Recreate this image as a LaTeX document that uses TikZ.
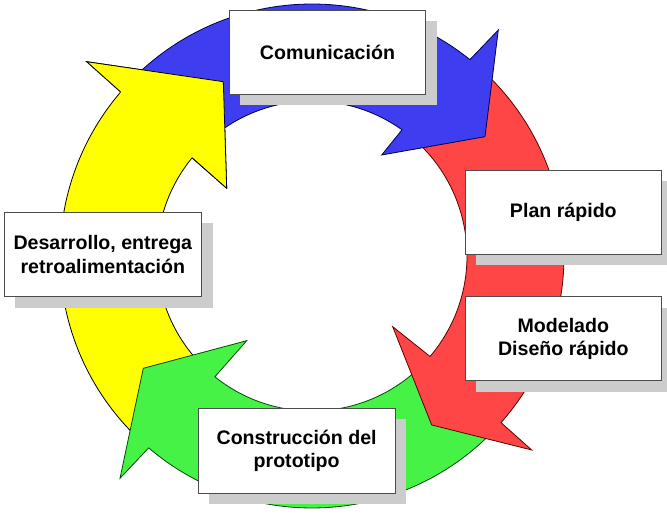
\documentclass[tikz,border=0pt]{standalone}
\usepackage{fontspec}
\setmainfont{Liberation Sans}
\usetikzlibrary{calc,shadows}
\definecolor{cblue}{RGB}{62,62,240}
\definecolor{cred}{RGB}{255,70,70}
\definecolor{cgreen}{RGB}{70,242,70}
\definecolor{cyellow}{RGB}{255,255,0}
\begin{document}
\begin{tikzpicture}[x=1pt,y=1pt,
  arr/.style={line width=0.8pt, line join=miter},
  box/.style={draw=black!70, line width=0.7pt, fill=white, minimum width=196.6pt, minimum height=84.3pt, inner sep=0pt, align=center, font=\fontsize{19.6}{23.5}\selectfont\bfseries,
    drop shadow={shadow xshift=11pt, shadow yshift=-11pt, fill=black!20, opacity=1}}]
\useasboundingbox (0,0) rectangle (667,514);
\clip (0,0) rectangle (667,514);
\coordinate (C) at (312,258);
% yellow
\coordinate (yob) at (86.7,452.3);
\coordinate (yt) at (223.3,432.3);
\coordinate (yib) at (226.7,325.7);
\draw[arr, fill=cyellow, draw=black] ($(C)+(225:155)$) -- ($(C)+(225:252)$) arc[start angle=225, end angle=139.4, radius=252] coordinate (yon)
  -- (yob) -- (yt) -- (yib) -- ($(C)+(140.7:155)$) coordinate (yin) arc[start angle=140.7, end angle=225, radius=155] -- cycle;
% green
\coordinate (gob) at (120,35.7);
\coordinate (gt) at (143.3,145.7);
\coordinate (gib) at (246.7,173.3);
\draw[arr, fill=cgreen, draw=green!30!black] ($(C)+(-44:155)$) -- ($(C)+(-44:252)$) arc[start angle=-44, end angle=-130.4, radius=252]
  -- (gob) -- (gt) -- (gib) -- ($(C)+(-128.8:155)$) arc[start angle=-128.8, end angle=-44, radius=155] -- cycle;
% red
\coordinate (rob) at (531.7,64);
\coordinate (rt) at (431.7,89);
\coordinate (rib) at (392.7,187.3);
\draw[arr, fill=cred, draw=red!35!black] ($(C)+(47:155)$) -- ($(C)+(47:252)$) arc[start angle=47, end angle=-41.4, radius=252]
  -- (rob) -- (rt) -- (rib) -- ($(C)+(-40.4:155)$) arc[start angle=-40.4, end angle=47, radius=155] -- cycle;
% blue
\coordinate (bob) at (498.3,484);
\coordinate (bt) at (485,377.3);
\coordinate (bib) at (381.7,359);
\draw[arr, fill=cblue, draw=blue!30!black] ($(C)+(136:155)$) -- ($(C)+(136:252)$) arc[start angle=136, end angle=51.2, radius=252]
  -- (bob) -- (bt) -- (bib) -- ($(C)+(54.5:155)$) arc[start angle=54.5, end angle=136, radius=155] -- cycle;
% yellow head on top of blue tail
\fill[cyellow] (yob) -- (yt) -- (yib) -- cycle;
\draw[arr, draw=black] (yon) -- (yob) -- (yt) -- (yib) -- (yin);
% boxes
\node[box] (com) at (327.5,461.85) {Comunicación};
\node[box] (plan) at (563.35,301.85) {Plan rápido};
\node[box] (mod) at (563.35,175.3) {Modelado\\Diseño rápido};
\node[box, minimum width=197.7pt] (des) at (102.85,259.5) {Desarrollo, entrega\\retroalimentación};
\node[box, minimum height=85pt] (con) at (296.65,63.2) {Construcción del\\prototipo};
\end{tikzpicture}
\end{document}
